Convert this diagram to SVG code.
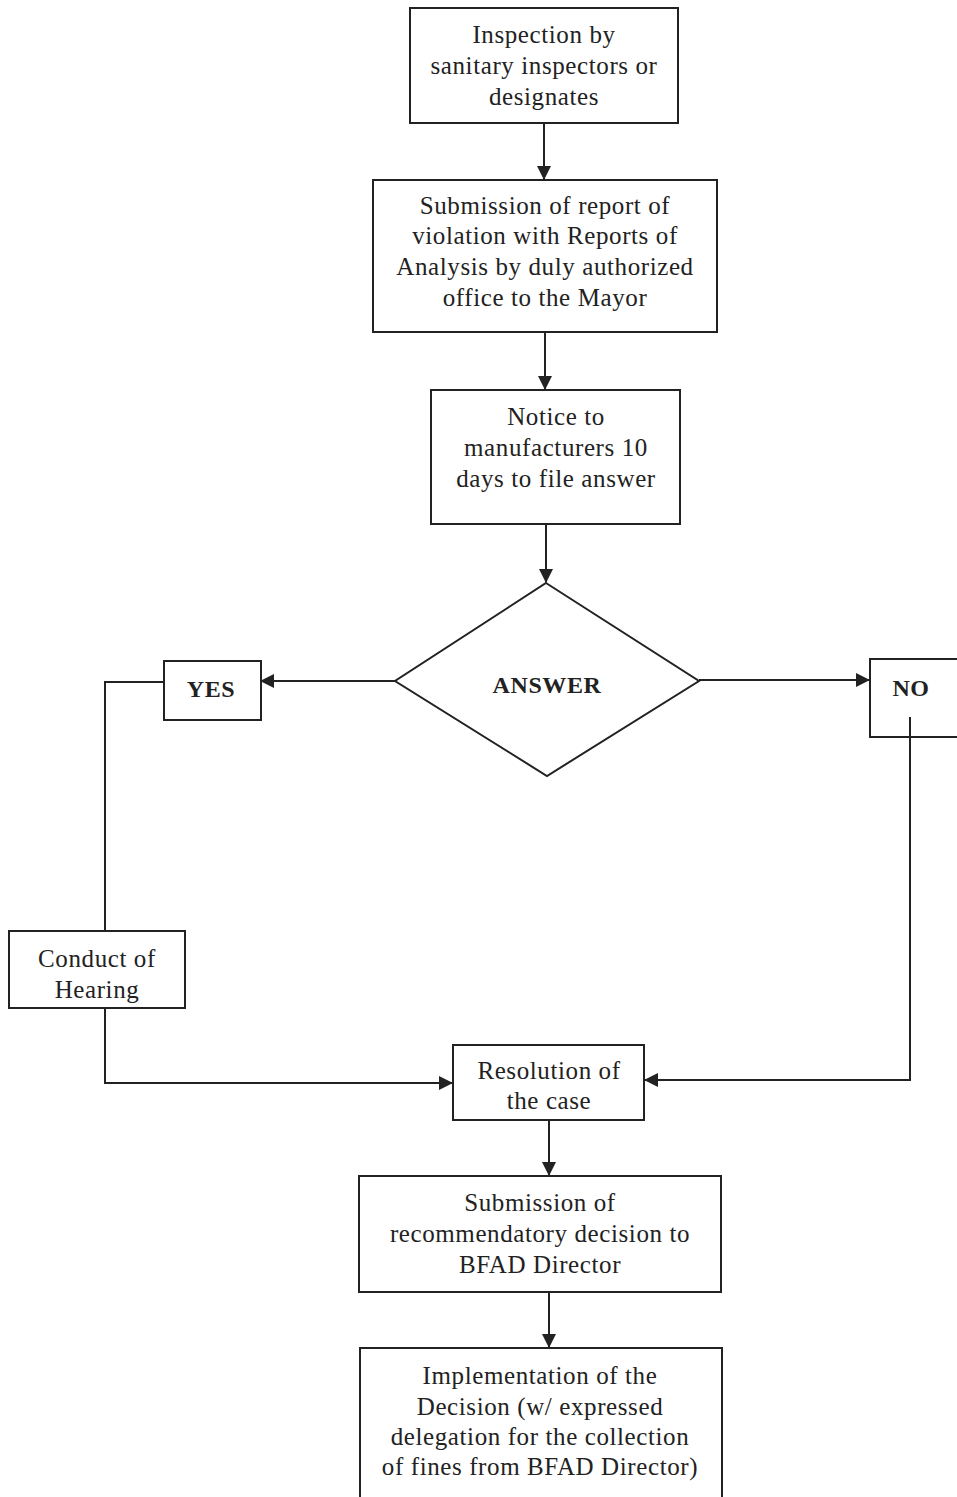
<svg xmlns="http://www.w3.org/2000/svg" width="957" height="1497" viewBox="0 0 957 1497">
<style>
.box{fill:#fff;stroke:#222;stroke-width:2}
.t{font-family:"Liberation Serif","Times New Roman",serif;font-size:25px;letter-spacing:0.6px;fill:#222;text-anchor:middle}
.b{font-weight:bold;font-size:24px}
.c{fill:none;stroke:#222;stroke-width:2}
</style>
<defs>
<marker id="ah" markerWidth="14" markerHeight="14" refX="13" refY="7" orient="auto" markerUnits="userSpaceOnUse">
<path d="M0,0 L14,7 L0,14 Z" fill="#222"/>
</marker>
</defs>
<rect width="957" height="1497" fill="#fff"/>
<g id="n1">
<rect class="box" x="410" y="8" width="268" height="115"/>
<text class="t" x="544" y="43">Inspection by</text>
<text class="t" x="544" y="74">sanitary inspectors or</text>
<text class="t" x="544" y="105">designates</text>
</g>
<g id="n2">
<rect class="box" x="373" y="180" width="344" height="152"/>
<text class="t" x="545" y="214">Submission of report of</text>
<text class="t" x="545" y="244">violation with Reports of</text>
<text class="t" x="545" y="275">Analysis by duly authorized</text>
<text class="t" x="545" y="306">office to the Mayor</text>
</g>
<g id="n3">
<rect class="box" x="431" y="390" width="249" height="134"/>
<text class="t" x="556" y="425">Notice to</text>
<text class="t" x="556" y="456">manufacturers 10</text>
<text class="t" x="556" y="487">days to file answer</text>
</g>
<g id="decision">
<polygon class="box" points="546,583 699,681 547,776 395,681"/>
<text class="t b" x="547" y="693">ANSWER</text>
</g>
<g id="yes">
<rect class="box" x="164" y="661" width="97" height="59"/>
<text class="t b" x="211" y="697">YES</text>
</g>
<g id="no">
<rect class="box" x="870" y="659" width="95" height="78"/>
<text class="t b" x="911" y="696">NO</text>
</g>
<g id="hearing">
<rect class="box" x="9" y="931" width="176" height="77"/>
<text class="t" x="97" y="967">Conduct of</text>
<text class="t" x="97" y="998">Hearing</text>
</g>
<g id="resolution">
<rect class="box" x="453" y="1045" width="191" height="75"/>
<text class="t" x="549" y="1079">Resolution of</text>
<text class="t" x="549" y="1109">the case</text>
</g>
<g id="submission">
<rect class="box" x="359" y="1176" width="362" height="116"/>
<text class="t" x="540" y="1211">Submission of</text>
<text class="t" x="540" y="1242">recommendatory decision to</text>
<text class="t" x="540" y="1273">BFAD Director</text>
</g>
<g id="implementation">
<rect class="box" x="360" y="1348" width="362" height="160"/>
<text class="t" x="540" y="1384">Implementation of the</text>
<text class="t" x="540" y="1415">Decision (w/ expressed</text>
<text class="t" x="540" y="1445">delegation for the collection</text>
<text class="t" x="540" y="1475">of fines from BFAD Director)</text>
</g>
<g id="connectors">
<line class="c" x1="544" y1="123" x2="544" y2="179" marker-end="url(#ah)"/>
<line class="c" x1="545" y1="332" x2="545" y2="389" marker-end="url(#ah)"/>
<line class="c" x1="546" y1="524" x2="546" y2="582" marker-end="url(#ah)"/>
<line class="c" x1="395" y1="681" x2="261" y2="681" marker-end="url(#ah)"/>
<polyline class="c" points="164,682 105,682 105,931"/>
<polyline class="c" points="105,1008 105,1083 452,1083" marker-end="url(#ah)"/>
<line class="c" x1="699" y1="680" x2="869" y2="680" marker-end="url(#ah)"/>
<polyline class="c" points="910,717 910,1080 645,1080" marker-end="url(#ah)"/>
<line class="c" x1="549" y1="1120" x2="549" y2="1175" marker-end="url(#ah)"/>
<line class="c" x1="549" y1="1292" x2="549" y2="1347" marker-end="url(#ah)"/>
</g>
</svg>
